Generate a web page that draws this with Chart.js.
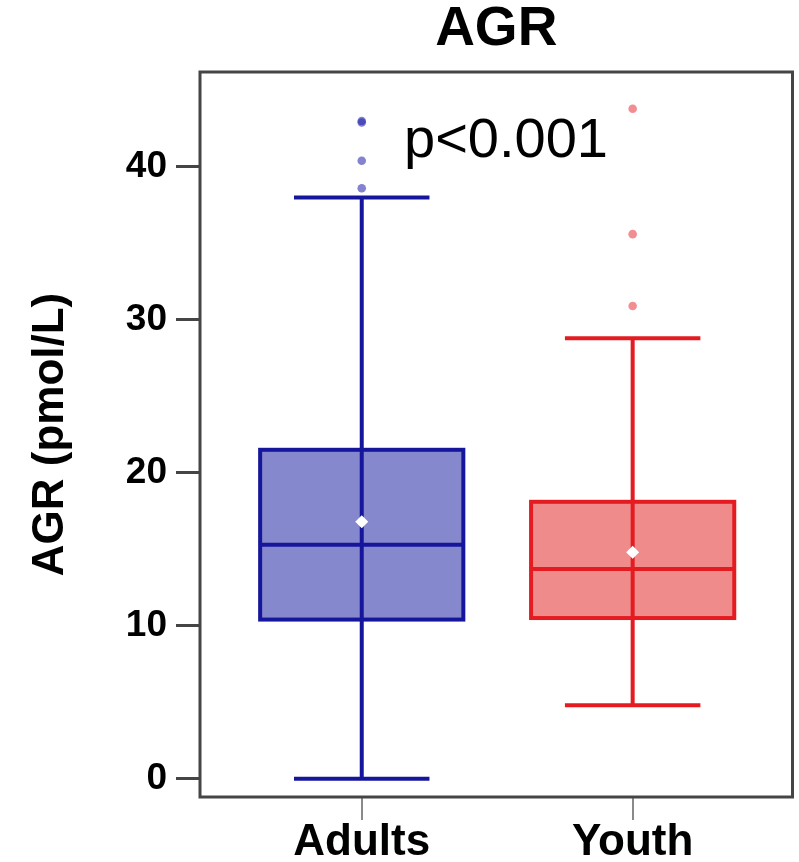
<!DOCTYPE html>
<html>
<head>
<meta charset="utf-8">
<script src="https://cdn.jsdelivr.net/npm/chart.js@4.4.1/dist/chart.umd.min.js"></script>
<style>
  html, body { margin: 0; padding: 0; background: #fff; }
  #wrap { width: 799px; height: 862px; }
</style>
</head>
<body>
<div id="wrap"><canvas id="agrChart"></canvas></div>
<script>
// ---- data ----
const groups = ['Adults', 'Youth'];
const whiskerLow = [0, 4.8];
const q1 = [10.4, 10.5];
const medians = [15.3, 13.7];
const q3 = [21.5, 18.1];
const whiskerHigh = [38.0, 28.8];
const means = [16.8, 14.8];
const adultsOutliers = [38.6, 40.4, 42.9, 43.0];
const youthOutliers = [30.9, 35.6, 43.8];
const yTicks = [0, 10, 20, 30, 40];
const pLabel = 'p<0.001';

// styles
const lineColors = ['#16169c', '#e41c22'];
const fillColors = ['#8588cc', '#f08b8c'];
const outlierColors = ['rgba(30,30,170,0.55)', 'rgba(232,50,55,0.55)'];
const FONT = '"Liberation Sans", Arial, Helvetica, sans-serif';

const toPoints = (vals, xPos) => vals.map(v => ({ x: xPos, y: v }));

// boxes, whiskers, medians and frame, all placed through the chart scales
const boxPlugin = {
    id: 'boxes',
    beforeDatasetsDraw(chart) {
        const { ctx, chartArea: a } = chart;
        const x = chart.scales.x, y = chart.scales.y;
        ctx.save();

        groups.forEach((g, i) => {
            const pos = i + 1;
            const cx = x.getPixelForValue(pos);
            const bl = x.getPixelForValue(pos - 0.375);
            const br = x.getPixelForValue(pos + 0.375);
            const cl = x.getPixelForValue(pos - 0.25);
            const cr = x.getPixelForValue(pos + 0.25);
            const yQ1 = y.getPixelForValue(q1[i]);
            const yQ3 = y.getPixelForValue(q3[i]);
            const yMed = y.getPixelForValue(medians[i]);
            const yLo = y.getPixelForValue(whiskerLow[i]);
            const yHi = y.getPixelForValue(whiskerHigh[i]);

            ctx.fillStyle = fillColors[i];
            ctx.fillRect(bl, yQ3, br - bl, yQ1 - yQ3);

            ctx.strokeStyle = lineColors[i];
            ctx.lineWidth = 4;
            ctx.beginPath();
            ctx.moveTo(cx, yLo); ctx.lineTo(cx, yHi);
            ctx.moveTo(cl, yLo); ctx.lineTo(cr, yLo);
            ctx.moveTo(cl, yHi); ctx.lineTo(cr, yHi);
            ctx.moveTo(bl, yMed); ctx.lineTo(br, yMed);
            ctx.stroke();
            ctx.strokeRect(bl, yQ3, br - bl, yQ1 - yQ3);
        });

        // plot frame
        ctx.strokeStyle = '#454545';
        ctx.lineWidth = 3;
        ctx.strokeRect(a.left, a.top, a.right - a.left, a.bottom - a.top);
        ctx.restore();
    },
    afterDraw(chart) {
        const { ctx } = chart;
        const x = chart.scales.x, y = chart.scales.y;
        ctx.save();
        ctx.font = '56px ' + FONT;
        ctx.fillStyle = '#000';
        ctx.textAlign = 'left';
        ctx.textBaseline = 'alphabetic';
        ctx.fillText(pLabel, x.getPixelForValue(1.156), y.getPixelForValue(40.65));
        ctx.restore();
    }
};

const ctx = document.getElementById('agrChart').getContext('2d');

new Chart(ctx, {
    type: 'scatter',
    data: {
        datasets: [
            {
                label: 'Adults outliers',
                data: toPoints(adultsOutliers, 1),
                backgroundColor: outlierColors[0],
                borderWidth: 0,
                pointRadius: 4.3,
            },
            {
                label: 'Youth outliers',
                data: toPoints(youthOutliers, 2),
                backgroundColor: outlierColors[1],
                borderWidth: 0,
                pointRadius: 4.3,
            },
            {
                label: 'Mean',
                data: means.map((m, i) => ({ x: i + 1, y: m })),
                backgroundColor: '#ffffff',
                borderWidth: 0,
                pointStyle: 'rectRot',
                pointRadius: 6.5,
            },
        ],
    },
    options: {
        responsive: true,
        maintainAspectRatio: false,
        animation: false,
        layout: { padding: { top: 0, left: 0, right: 2, bottom: 0 } },
        plugins: {
            legend: { display: false },
            tooltip: { enabled: false },
            title: {
                display: true,
                text: 'AGR',
                fullSize: false,
                color: '#000',
                font: { family: FONT, size: 55, weight: 'bold', lineHeight: 1.1 },
                padding: { top: 0, bottom: 11.5 },
            },
        },
        scales: {
            x: {
                type: 'linear',
                min: 0.403,
                max: 2.59,
                afterBuildTicks: (scale) => {
                    scale.ticks = groups.map((g, i) => ({ value: i + 1 }));
                },
                afterFit: (scale) => { scale.height = 65; },
                border: { display: false },
                grid: {
                    drawOnChartArea: false,
                    drawTicks: true,
                    tickLength: 23,
                    color: '#8a8a8a',
                    lineWidth: 2,
                },
                ticks: {
                    autoSkip: false,
                    maxRotation: 0,
                    padding: -4,
                    color: '#000',
                    font: { family: FONT, size: 44, weight: 'bold' },
                    callback: (v) => groups[v - 1] ?? '',
                },
            },
            y: {
                type: 'linear',
                min: -1.2,
                max: 46.2,
                afterBuildTicks: (scale) => {
                    scale.ticks = yTicks.map(v => ({ value: v }));
                },
                afterFit: (scale) => { scale.width = 200; },
                border: { display: false },
                grid: {
                    drawOnChartArea: false,
                    drawTicks: true,
                    tickLength: 24,
                    color: '#454545',
                    lineWidth: 3,
                },
                ticks: {
                    padding: 9,
                    color: '#000',
                    font: { family: FONT, size: 37, weight: 'bold' },
                },
                title: {
                    display: true,
                    text: 'AGR (pmol/L)',
                    color: '#000',
                    font: { family: FONT, size: 44, weight: 'bold' },
                    padding: { top: 24, bottom: 0 },
                },
            },
        },
    },
    plugins: [boxPlugin],
});
</script>
</body>
</html>
